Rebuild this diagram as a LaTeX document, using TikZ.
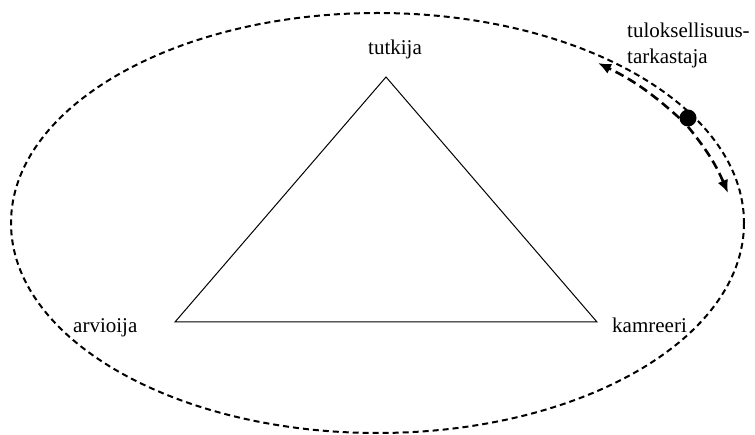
\documentclass[tikz,border=0pt]{standalone}
\usepackage{fontspec}
\setmainfont{Liberation Serif}
\usetikzlibrary{arrows.meta}
\tikzset{
  lbl/.style={font=\fontsize{21}{26}\selectfont, inner sep=0pt},
  orbit/.style={draw=black, line width=2pt, dash pattern=on 6pt off 4pt},
  tri/.style={draw=black, line width=1pt, line join=miter},
  move/.style={draw=black, line width=2.6pt, dash pattern=on 9pt off 5pt, -{Latex[length=13pt,width=11pt]}},
}
\begin{document}
\begin{tikzpicture}[x=1pt,y=-1pt]
\useasboundingbox (0,0) rectangle (755,435);
\draw[orbit] (377.5,223) ellipse [x radius=366.5, y radius=210];
\coordinate (top) at (386,77);
\coordinate (bl) at (175,322);
\coordinate (br) at (597,322);
\draw[tri] (top) -- (bl) -- (br) -- cycle;
\node[lbl, anchor=base] (tutkija) at (395,55) {tutkija};
\node[lbl, anchor=base west] (arvioija) at (73,333) {arvioija};
\node[lbl, anchor=base west] (kamreeri) at (612,333) {kamreeri};
\node[lbl, anchor=base west, align=left] (tt) at (627,63.5) {tuloksellisuus-\\tarkastaja};
\node[circle, fill=black, minimum size=17pt, inner sep=0pt] (dot) at (688,118) {};
\coordinate (t1) at (598,63);
\coordinate (t2) at (728,193);
\draw[move] (dot.west) to[bend right=8] (t1);
\draw[move] (dot.south) to[bend left=8] (t2);
\end{tikzpicture}
\end{document}
